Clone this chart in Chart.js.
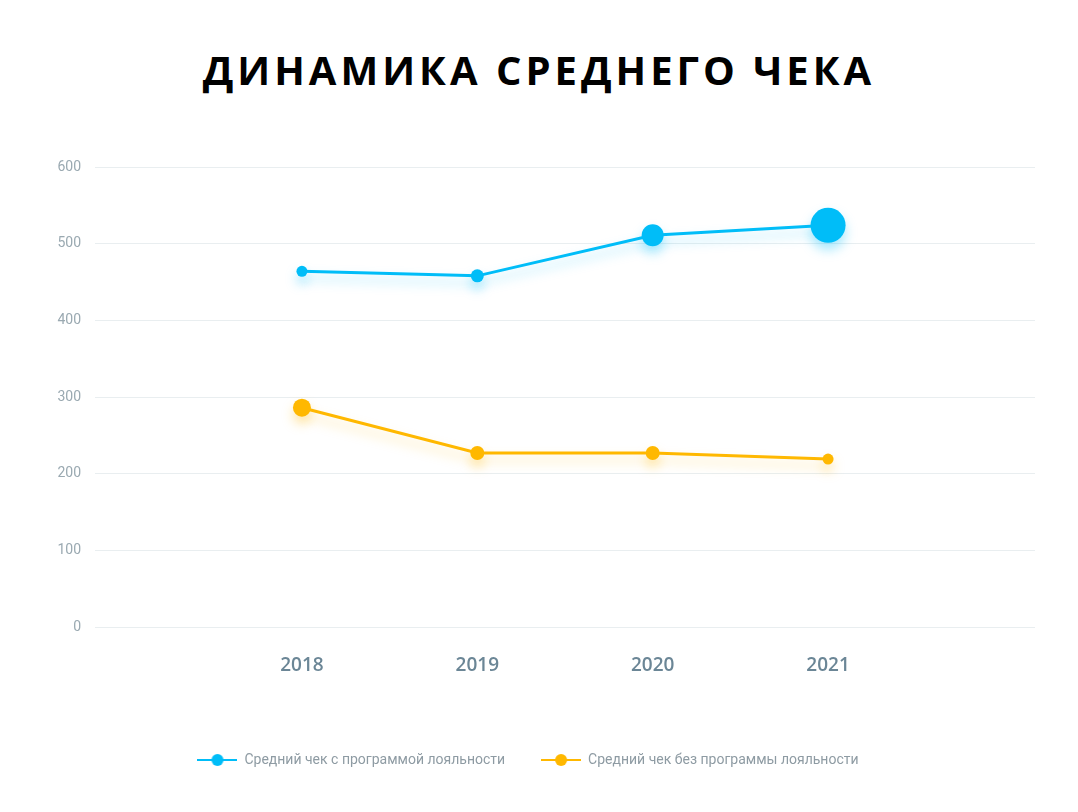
<!DOCTYPE html>
<html>
<head>
<meta charset="utf-8">
<script src="https://cdn.jsdelivr.net/npm/chart.js@4/dist/chart.umd.min.js"></script>
<style>
  body { margin: 0; background: #fff; }
  #wrap { position: relative; width: 1078px; height: 812px; }
  h1 {
    position: absolute; left: 0; right: 0; top: 50px; margin: 0;
    text-align: center; font-family: "Open Sans", sans-serif; font-weight: 700;
    font-size: 40px; letter-spacing: 4px; color: #000; line-height: 1;
  }
  canvas { position: absolute; left: 0; top: 0; }
</style>
</head>
<body>
<div id="wrap">
  <h1>ДИНАМИКА СРЕДНЕГО ЧЕКА</h1>
  <canvas id="grafico" width="1078" height="812"></canvas>
</div>
<script>
// Данные графика
const anos = [2018, 2019, 2020, 2021];
const comProgramaSerie = [464, 458, 511, 524];
const semProgramaSerie = [286, 227, 227, 219];
const nomesSeries = ["Средний чек с программой лояльности", "Средний чек без программы лояльности"];
const ticksY = [0, 100, 200, 300, 400, 500, 600];

const azul = "#00bdf8";
const laranja = "#ffb800";

// desenha o marcador da legenda (linha + bolinha)
function marcadorLegenda(cor) {
  const c = document.createElement("canvas");
  c.width = 40; c.height = 14;
  const g = c.getContext("2d");
  g.strokeStyle = cor; g.lineWidth = 2;
  g.beginPath(); g.moveTo(0, 7); g.lineTo(40, 7); g.stroke();
  g.fillStyle = cor;
  g.beginPath(); g.arc(20, 7, 6, 0, Math.PI * 2); g.fill();
  return c;
}

// sombra embaixo das linhas
const sombraPlugin = {
  id: "sombra",
  beforeDatasetDraw(chart, args) {
    const ctx = chart.ctx;
    ctx.save();
    ctx.shadowColor = args.index === 0 ? "rgba(0,189,248,0.35)" : "rgba(255,184,0,0.35)";
    ctx.shadowBlur = 12;
    ctx.shadowOffsetY = 7;
  },
  afterDatasetDraw(chart) {
    chart.ctx.restore();
  }
};

const ctx = document.getElementById("grafico").getContext("2d");

const grafico = new Chart(ctx, {
  type: "line",
  data: {
    datasets: [{
      label: nomesSeries[0],
      data: anos.map((a, i) => ({ x: a, y: comProgramaSerie[i] })),
      borderColor: azul,
      backgroundColor: azul,
      borderWidth: 3,
      pointRadius: [5.5, 6.5, 11, 17.5],
      pointBorderWidth: 0,
      pointStyle: "circle",
      fill: false
    }, {
      label: nomesSeries[1],
      data: anos.map((a, i) => ({ x: a, y: semProgramaSerie[i] })),
      borderColor: laranja,
      backgroundColor: laranja,
      borderWidth: 3,
      pointRadius: [9, 7, 7, 5.5],
      pointBorderWidth: 0,
      pointStyle: "circle",
      fill: false
    }]
  },
  options: {
    responsive: false,
    animation: false,
    layout: { padding: { top: 167, right: 43, bottom: 35, left: 21 } },
    plugins: {
      tooltip: { enabled: false },
      legend: {
        position: "bottom",
        labels: {
          usePointStyle: true,
          pointStyleWidth: 40,
          padding: 36,
          color: "#8e9ba3",
          font: { family: "Roboto", size: 14 },
          generateLabels(chart) {
            return chart.data.datasets.map((ds, i) => ({
              text: ds.label,
              fontColor: "#8e9ba3",
              pointStyle: marcadorLegenda(ds.borderColor),
              strokeStyle: ds.borderColor,
              fillStyle: ds.borderColor,
              lineWidth: 0,
              hidden: false,
              datasetIndex: i
            }));
          }
        }
      }
    },
    scales: {
      x: {
        type: "linear",
        min: 2016.82,
        max: 2022.18,
        afterBuildTicks(scale) { scale.ticks = anos.map(v => ({ value: v })); },
        afterFit(scale) { scale.height = 90; },
        grid: { display: false, drawTicks: false },
        border: { display: false },
        ticks: {
          padding: 27,
          color: "#6b8696",
          font: { family: "Open Sans", size: 19, weight: "600" },
          callback: v => String(v)
        }
      },
      y: {
        min: 0,
        max: 600,
        afterBuildTicks(scale) { scale.ticks = ticksY.map(v => ({ value: v })); },
        afterFit(scale) { scale.width = 74; },
        grid: { color: "#e9eef0", lineWidth: 1, drawTicks: false },
        border: { display: false },
        ticks: {
          padding: 14,
          color: "#9aa9b1",
          font: { family: "Roboto", size: 14 }
        }
      }
    }
  },
  plugins: [sombraPlugin]
});
</script>
</body>
</html>
